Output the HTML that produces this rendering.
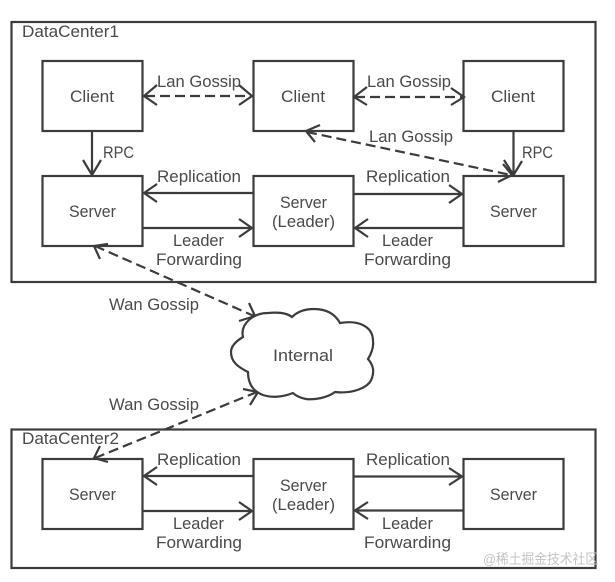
<!DOCTYPE html>
<html><head><meta charset="utf-8">
<style>
html,body{margin:0;padding:0;background:#fff;width:615px;height:582px;overflow:hidden}
svg{display:block;filter:blur(.35px)}
text{font-family:"Liberation Sans","Noto Sans CJK SC",sans-serif;font-size:17px;fill:#4a4a4a}
.b{fill:#fff;stroke:#3c3c3c;stroke-width:2.2}
.l{fill:none;stroke:#3c3c3c;stroke-width:2.2}
.d{fill:none;stroke:#3c3c3c;stroke-width:2.2;stroke-dasharray:10 5}
</style></head>
<body>
<svg width="615" height="582" viewBox="0 0 615 582" xmlns="http://www.w3.org/2000/svg">
<rect class="b" x="11.500" y="22" width="584" height="260"/>
<rect class="b" x="11.500" y="429.500" width="584" height="138.500"/>

<rect class="b" x="42.500" y="61" width="100" height="70"/>
<rect class="b" x="253.500" y="61" width="100" height="70"/>
<rect class="b" x="463.500" y="61" width="100" height="70"/>
<rect class="b" x="42.500" y="176" width="100" height="70"/>
<rect class="b" x="253.500" y="176" width="100" height="70"/>
<rect class="b" x="463.500" y="176" width="100" height="70"/>
<rect class="b" x="42.500" y="459" width="100" height="70"/>
<rect class="b" x="253.500" y="459" width="100" height="70"/>
<rect class="b" x="463.500" y="459" width="100" height="70"/>

<!-- top row dashed -->
<path class="d" d="M145 96H252"/>
<path class="l" d="M157 85L144 96L157 105M239 85L252 96L239 105"/>
<path class="d" d="M355 97H464"/>
<path class="l" d="M367 87L354 97L367 105M451 88L464 97L451 105"/>
<!-- RPC -->
<path class="l" d="M92 131V175M83 160L92 175L101 160"/>
<path class="l" d="M513.500 131V175M504 160L513.500 175L522 161"/>
<!-- DC1 replication -->
<path class="l" d="M253 193H144M157 184L144 193L157 202"/>
<path class="l" d="M143 228H252M239 219L252 228L239 237"/>
<path class="l" d="M354 194H462M449 185L462 194L449 203"/>
<path class="l" d="M463 228H355M368 219L355 228L368 237"/>
<!-- DC2 replication -->
<path class="l" d="M253 476H144M157 467L144 476L157 485"/>
<path class="l" d="M143 511H252M239 502L252 511L239 520"/>
<path class="l" d="M354 476.500H462M449 468L462 476.500L449 485"/>
<path class="l" d="M463 510.500H355M368 502L355 510.500L368 519"/>
<!-- diagonals -->
<path class="d" d="M307 132L511 175"/>
<path class="l" d="M320 125L306 131L315 142M498 182L512 175L503 164"/>
<path class="d" d="M95 246L254 316"/>
<path class="l" d="M108 244L94 246L100 259M239 321L255 316L249 303"/>
<path class="d" d="M95 458L257 392"/>
<path class="l" d="M100 446L94 458L108 462M243 389L258 392L250 405"/>

<!-- cloud -->
<path class="b" d="M243 337C240 324 253 313 268 313C278 312 287 313 292 317C298 311 306 309 314 309C326 309 335 314 340 323C358 320 373 326 373 341C374 348 371 354 368 359C374 366 374 372 372 378C369 388 352 394 335 392C327 398 314 400 306 399C301 398 296 396 293 393C283 397 272 398 263 395C252 391 248 382 248 372C238 367 231 362 231 352C231 345 238 340 243 337Z"/>

<text x="22" y="37" textLength="97" lengthAdjust="spacingAndGlyphs">DataCenter1</text>
<text x="22" y="444" textLength="97" lengthAdjust="spacingAndGlyphs">DataCenter2</text>

<text x="70" y="102" textLength="44" lengthAdjust="spacingAndGlyphs">Client</text>
<text x="281" y="102" textLength="44" lengthAdjust="spacingAndGlyphs">Client</text>
<text x="491" y="102" textLength="44" lengthAdjust="spacingAndGlyphs">Client</text>

<text x="157" y="87" textLength="84" lengthAdjust="spacingAndGlyphs">Lan Gossip</text>
<text x="367" y="87" textLength="84" lengthAdjust="spacingAndGlyphs">Lan Gossip</text>
<text x="369" y="142" textLength="84" lengthAdjust="spacingAndGlyphs">Lan Gossip</text>

<text x="103" y="158" textLength="31" lengthAdjust="spacingAndGlyphs">RPC</text>
<text x="522" y="158" textLength="31" lengthAdjust="spacingAndGlyphs">RPC</text>

<text x="157" y="182" textLength="84" lengthAdjust="spacingAndGlyphs">Replication</text>
<text x="366" y="182" textLength="84" lengthAdjust="spacingAndGlyphs">Replication</text>
<text x="157" y="465" textLength="84" lengthAdjust="spacingAndGlyphs">Replication</text>
<text x="366" y="465" textLength="84" lengthAdjust="spacingAndGlyphs">Replication</text>

<text x="69" y="217" textLength="47" lengthAdjust="spacingAndGlyphs">Server</text>
<text x="490" y="217" textLength="47" lengthAdjust="spacingAndGlyphs">Server</text>
<text x="69" y="500" textLength="47" lengthAdjust="spacingAndGlyphs">Server</text>
<text x="490" y="500" textLength="47" lengthAdjust="spacingAndGlyphs">Server</text>

<text x="280" y="208" textLength="47" lengthAdjust="spacingAndGlyphs">Server</text>
<text x="272" y="227" textLength="63" lengthAdjust="spacingAndGlyphs">(Leader)</text>
<text x="280" y="491" textLength="47" lengthAdjust="spacingAndGlyphs">Server</text>
<text x="272" y="510" textLength="63" lengthAdjust="spacingAndGlyphs">(Leader)</text>

<text x="173" y="246" textLength="51" lengthAdjust="spacingAndGlyphs">Leader</text>
<text x="156" y="265" textLength="86" lengthAdjust="spacingAndGlyphs">Forwarding</text>
<text x="382" y="246" textLength="51" lengthAdjust="spacingAndGlyphs">Leader</text>
<text x="364" y="265" textLength="87" lengthAdjust="spacingAndGlyphs">Forwarding</text>
<text x="173" y="529" textLength="51" lengthAdjust="spacingAndGlyphs">Leader</text>
<text x="156" y="548" textLength="86" lengthAdjust="spacingAndGlyphs">Forwarding</text>
<text x="382" y="529" textLength="51" lengthAdjust="spacingAndGlyphs">Leader</text>
<text x="364" y="548" textLength="87" lengthAdjust="spacingAndGlyphs">Forwarding</text>

<text x="109" y="310" textLength="90" lengthAdjust="spacingAndGlyphs">Wan Gossip</text>
<text x="109" y="410" textLength="90" lengthAdjust="spacingAndGlyphs">Wan Gossip</text>
<text x="273" y="361" textLength="60" lengthAdjust="spacingAndGlyphs">Internal</text>

<text x="483" y="564" textLength="115" lengthAdjust="spacingAndGlyphs" style="font-size:14px;fill:#c4c4c4">@稀土掘金技术社区</text>
</svg>
</body></html>
